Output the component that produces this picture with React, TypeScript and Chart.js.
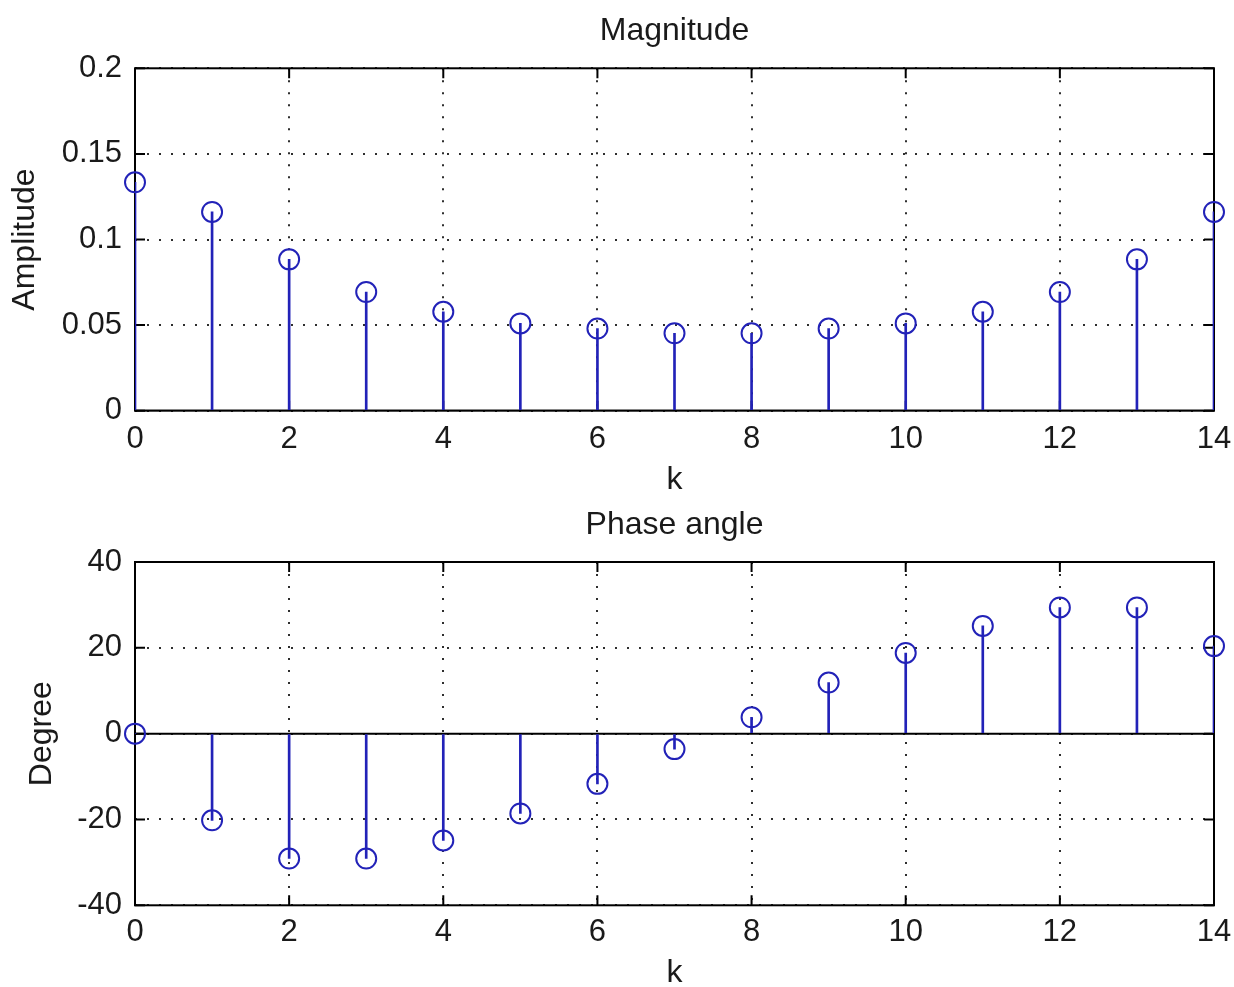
import React, { useEffect, useRef } from "react";
import { Chart, registerables } from "chart.js";

Chart.register(...registerables);

// ---------- data ----------
const kValues = [0, 1, 2, 3, 4, 5, 6, 7, 8, 9, 10, 11, 12, 13, 14];
const magnitude = [
  0.1334, 0.1161, 0.0884, 0.0693, 0.0578, 0.051, 0.048, 0.0452, 0.0452, 0.048,
  0.051, 0.0578, 0.0693, 0.0884, 0.1161,
];
const phaseDeg = [
  0, -20.2, -29.1, -29.1, -24.9, -18.6, -11.7, -3.6, 3.8, 11.9, 18.8, 25.1, 29.4,
  29.4, 20.4,
];
const xTicks = [0, 2, 4, 6, 8, 10, 12, 14];
const magTicks = [0, 0.05, 0.1, 0.15, 0.2];
const phaseTicks = [-40, -20, 0, 20, 40];
const baselineValue = 0;

const FONT = "'Liberation Sans', Arial, Helvetica, sans-serif";
const STEM = "#2222b8";
const TEXT = "#1a1a1a";

const boxPlugin = {
  id: "matlabBox",
  beforeDatasetsDraw(chart: any) {
    const { ctx, chartArea: a, scales } = chart;
    const L = 10;
    ctx.save();
    ctx.strokeStyle = "#000";
    ctx.lineWidth = 2;
    ctx.strokeRect(a.left, a.top, a.right - a.left, a.bottom - a.top);
    ctx.beginPath();
    for (const t of scales.x.ticks) {
      const px = scales.x.getPixelForValue(t.value);
      ctx.moveTo(px, a.bottom);
      ctx.lineTo(px, a.bottom - L);
      ctx.moveTo(px, a.top);
      ctx.lineTo(px, a.top + L);
    }
    for (const t of scales.y.ticks) {
      const py = scales.y.getPixelForValue(t.value);
      ctx.moveTo(a.left, py);
      ctx.lineTo(a.left + L, py);
      ctx.moveTo(a.right, py);
      ctx.lineTo(a.right - L, py);
    }
    ctx.stroke();
    ctx.restore();
  },
};

type Params = {
  title: string;
  titlePad: { top: number; bottom: number };
  yLabel: string;
  yLabelPad: number;
  xLabelPad: number;
  xAxisHeight: number;
  xTickPad: number;
  values: number[];
  yTicks: number[];
};

function makeConfig(p: Params): any {
  const yMin = p.yTicks[0];
  const yMax = p.yTicks[p.yTicks.length - 1];
  return {
    type: "scatter",
    data: {
      datasets: [
        {
          type: "scatter",
          data: kValues.map((k, i) => ({ x: k, y: p.values[i] })),
          showLine: false,
          pointRadius: 10,
          pointHoverRadius: 10,
          pointBorderWidth: 2,
          pointBackgroundColor: "rgba(0,0,0,0)",
          pointBorderColor: STEM,
          clip: false,
          order: 0,
        },
        {
          type: "bar",
          data: kValues.map((k, i) => ({ x: k, y: p.values[i] })),
          backgroundColor: STEM,
          borderWidth: 0,
          barThickness: 2,
          order: 1,
        },
        {
          type: "line",
          data: [
            { x: kValues[0], y: baselineValue },
            { x: kValues[kValues.length - 1], y: baselineValue },
          ],
          borderColor: "#000",
          borderWidth: 2,
          pointRadius: 0,
          order: 2,
        },
      ],
    },
    options: {
      responsive: false,
      animation: false,
      devicePixelRatio: 1,
      layout: { padding: { left: 0, right: 20, top: 0, bottom: 0 } },
      plugins: {
        legend: { display: false },
        tooltip: { enabled: false },
        title: {
          display: true,
          fullSize: false,
          text: p.title,
          color: TEXT,
          font: { family: FONT, size: 32, weight: "normal", lineHeight: 1.2 },
          padding: p.titlePad,
        },
      },
      scales: {
        x: {
          type: "linear",
          min: 0,
          max: 14,
          offset: false,
          afterBuildTicks: (s: any) => {
            s.ticks = xTicks.map((v) => ({ value: v }));
          },
          afterFit: (s: any) => {
            s.height = p.xAxisHeight;
            s.paddingLeft = 0;
            s.paddingRight = 0;
          },
          grid: {
            color: "#2e2e2e",
            lineWidth: 2,
            drawTicks: false,
            offset: false,
          },
          border: { display: false, dash: [2, 10] },
          ticks: {
            color: TEXT,
            font: { family: FONT, size: 31, lineHeight: 1.2 },
            padding: p.xTickPad,
            maxRotation: 0,
            autoSkip: false,
            callback: (v: any) => String(v),
          },
          title: {
            display: true,
            text: "k",
            color: TEXT,
            font: { family: FONT, size: 32, lineHeight: 1 },
            padding: { top: 0, bottom: p.xLabelPad },
          },
        },
        y: {
          type: "linear",
          min: yMin,
          max: yMax,
          afterBuildTicks: (s: any) => {
            s.ticks = p.yTicks.map((v) => ({ value: v }));
          },
          afterFit: (s: any) => {
            s.width = 135;
            s.paddingTop = 0;
            s.paddingBottom = 0;
          },
          grid: {
            color: "#2e2e2e",
            lineWidth: 2,
            drawTicks: false,
          },
          border: { display: false, dash: [2, 10] },
          ticks: {
            color: TEXT,
            font: { family: FONT, size: 31, lineHeight: 1.2 },
            padding: 13,
            autoSkip: false,
            callback: (v: any) => String(v),
          },
          title: {
            display: true,
            text: p.yLabel,
            color: TEXT,
            font: { family: FONT, size: 32, lineHeight: 1 },
            padding: { top: p.yLabelPad, bottom: 0 },
          },
        },
      },
    },
    plugins: [boxPlugin],
  };
}

function ChartCanvas({
  width,
  height,
  make,
}: {
  width: number;
  height: number;
  make: () => any;
}) {
  const ref = useRef<HTMLCanvasElement | null>(null);
  useEffect(() => {
    if (!ref.current) return;
    const chart = new Chart(ref.current, make());
    return () => chart.destroy();
  }, []);
  return (
    <canvas
      ref={ref}
      width={width}
      height={height}
      style={{ display: "block", width, height }}
    />
  );
}

export default function App() {
  return (
    <div
      style={{
        position: "fixed",
        left: 0,
        top: 0,
        width: 1234,
        height: 987,
        background: "#ffffff",
      }}
    >
      <ChartCanvas
        width={1234}
        height={500}
        make={() =>
          makeConfig({
            title: "Magnitude",
            titlePad: { top: 11.8, bottom: 18.1 },
            yLabel: "Amplitude",
            yLabelPad: 9,
            xLabelPad: 4,
            xAxisHeight: 89.3,
            xTickPad: 10,
            values: magnitude,
            yTicks: magTicks,
          })
        }
      />
      <ChartCanvas
        width={1234}
        height={487}
        make={() =>
          makeConfig({
            title: "Phase angle",
            titlePad: { top: 5.8, bottom: 17.8 },
            yLabel: "Degree",
            yLabelPad: 26.5,
            xLabelPad: -2.5,
            xAxisHeight: 81.7,
            xTickPad: 9,
            values: phaseDeg,
            yTicks: phaseTicks,
          })
        }
      />
    </div>
  );
}
